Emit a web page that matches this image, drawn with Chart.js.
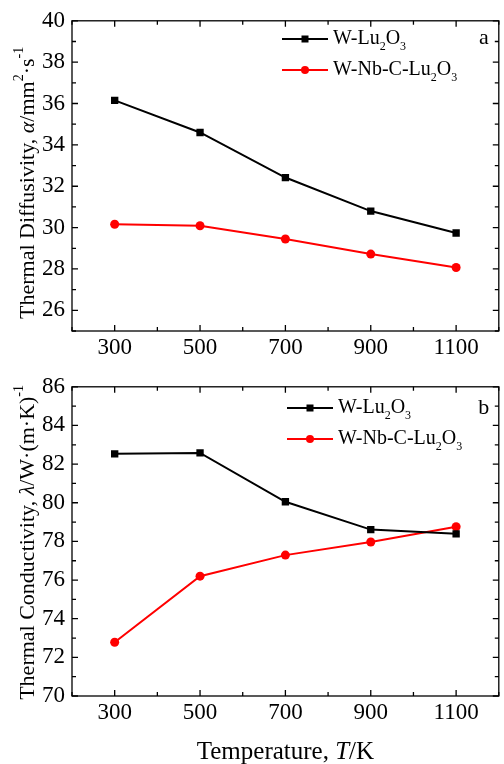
<!DOCTYPE html>
<html>
<head>
<meta charset="utf-8">
<script src="https://cdn.jsdelivr.net/npm/chart.js@4/dist/chart.umd.min.js"></script>
<style>
  body { margin: 0; background: #fff; }
  canvas { display: block; }
</style>
</head>
<body>
<canvas id="diffChart" width="504" height="366"></canvas>
<canvas id="condChart" width="504" height="398"></canvas>
<script>
const temps = [300, 500, 700, 900, 1100];
const xTicks = [300, 500, 700, 900, 1100];
const seriesNames = ['W-Lu2O3', 'W-Nb-C-Lu2O3'];

// panel a: thermal diffusivity
const diffWLu = [36.15, 34.6, 32.42, 30.8, 29.74];
const diffWNbC = [30.16, 30.09, 29.45, 28.72, 28.07];
const diffTicks = [26, 28, 30, 32, 34, 36, 38, 40];

// panel b: thermal conductivity
const condWLu = [82.53, 82.58, 80.05, 78.61, 78.39];
const condWNbC = [72.78, 76.2, 77.29, 77.97, 78.76];
const condTicks = [70, 72, 74, 76, 78, 80, 82, 84, 86];

const FONT = '"Liberation Serif", "Times New Roman", serif';

function fontFor(p, size) {
  const s = (p.sub || p.sup) ? Math.round(size * 0.62) : size;
  return (p.it ? 'italic ' : '') + s + 'px ' + FONT;
}

// draws text made of pieces (italic, sub, sup) centred or left aligned on x
function drawRich(ctx, parts, x, y, size, align) {
  let w = 0;
  parts.forEach(p => { ctx.font = fontFor(p, size); w += ctx.measureText(p.t).width; });
  let cx = align === 'left' ? x : x - w / 2;
  ctx.textAlign = 'left';
  ctx.textBaseline = 'middle';
  parts.forEach(p => {
    ctx.font = fontFor(p, size);
    const dy = p.sub ? size * 0.38 : p.sup ? -size * 0.4 : 0;
    ctx.fillText(p.t, cx, y + dy);
    cx += ctx.measureText(p.t).width;
  });
}

function legendParts(name) {
  if (name === 'W-Lu2O3') {
    return [{ t: 'W-Lu' }, { t: '2', sub: true }, { t: 'O' }, { t: '3', sub: true }];
  }
  return [{ t: 'W-Nb-C-Lu' }, { t: '2', sub: true }, { t: 'O' }, { t: '3', sub: true }];
}

const decorPlugin = {
  id: 'decor',
  afterDraw(chart) {
    const o = chart.options.plugins.decor;
    const ctx = chart.ctx;
    const area = chart.chartArea;
    const xs = chart.scales.x;
    const ys = chart.scales.y;
    ctx.save();
    ctx.strokeStyle = '#000';
    ctx.fillStyle = '#000';
    ctx.lineWidth = 1.3;
    ctx.strokeRect(area.left, area.top, area.right - area.left, area.bottom - area.top);

    // inward ticks on all four sides
    ctx.beginPath();
    for (let v = xs.min; v <= xs.max; v += 100) {
      const px = xs.getPixelForValue(v);
      const len = xTicks.includes(v) ? 6 : 4;
      ctx.moveTo(px, area.bottom); ctx.lineTo(px, area.bottom - len);
      ctx.moveTo(px, area.top); ctx.lineTo(px, area.top + len);
    }
    for (let v = ys.min; v <= ys.max; v += 1) {
      const py = ys.getPixelForValue(v);
      const len = o.yTicks.includes(v) ? 6 : 4;
      ctx.moveTo(area.left, py); ctx.lineTo(area.left + len, py);
      ctx.moveTo(area.right, py); ctx.lineTo(area.right - len, py);
    }
    ctx.stroke();

    // y axis title, rotated
    ctx.save();
    ctx.translate(o.yTitleX, (area.top + area.bottom) / 2 + o.yTitleShift);
    ctx.rotate(-Math.PI / 2);
    drawRich(ctx, o.yTitle, 0, 0, 22);
    ctx.restore();

    if (o.xTitle) {
      drawRich(ctx, o.xTitle, (area.left + area.right) / 2, o.xTitleY, 25);
    }

    // panel letter
    ctx.font = '22px ' + FONT;
    ctx.textAlign = 'center';
    ctx.textBaseline = 'middle';
    ctx.fillText(o.letter, area.right - 15, area.top + o.letterDy);

    // legend
    chart.data.datasets.forEach((ds, i) => {
      const ly = o.legendY + i * 31;
      ctx.strokeStyle = ds.borderColor;
      ctx.fillStyle = ds.borderColor;
      ctx.lineWidth = 2;
      ctx.beginPath();
      ctx.moveTo(o.legendX, ly); ctx.lineTo(o.legendX + 46, ly);
      ctx.stroke();
      const mx = o.legendX + 23;
      if (ds.pointStyle === 'rect') {
        ctx.fillRect(mx - 3.5, ly - 3.5, 7, 7);
      } else {
        ctx.beginPath(); ctx.arc(mx, ly, 4, 0, Math.PI * 2); ctx.fill();
      }
      ctx.fillStyle = '#000';
      drawRich(ctx, legendParts(ds.label), o.legendX + 51, ly, 20, 'left');
    });
    ctx.restore();
  }
};

function makeChart(id, a, b, yMin, yMax, yTicks, decor, yWidth, xHeight, padTop) {
  const ctx = document.getElementById(id).getContext('2d');
  return new Chart(ctx, {
    type: 'line',
    data: {
      datasets: [
        {
          label: seriesNames[0],
          data: temps.map((t, i) => ({ x: t, y: a[i] })),
          borderColor: '#000000',
          backgroundColor: '#000000',
          borderWidth: 2,
          pointStyle: 'rect',
          pointRadius: 5.2,
          pointBorderWidth: 0,
          tension: 0
        },
        {
          label: seriesNames[1],
          data: temps.map((t, i) => ({ x: t, y: b[i] })),
          borderColor: '#ff0000',
          backgroundColor: '#ff0000',
          borderWidth: 2,
          pointStyle: 'circle',
          pointRadius: 4.5,
          pointBorderWidth: 0,
          tension: 0
        }
      ]
    },
    options: {
      responsive: false,
      animation: false,
      devicePixelRatio: 1,
      layout: { padding: { top: padTop, right: 4, left: 0, bottom: 0 } },
      plugins: {
        legend: { display: false },
        tooltip: { enabled: false },
        decor: Object.assign({ yTicks: yTicks }, decor)
      },
      scales: {
        x: {
          type: 'linear',
          min: 200,
          max: 1200,
          afterBuildTicks: s => { s.ticks = xTicks.map(v => ({ value: v })); },
          afterFit: s => { s.height = xHeight; },
          grid: { display: false, drawTicks: false },
          border: { display: false },
          ticks: {
            color: '#000', padding: 3, font: { family: FONT, size: 23 },
            callback: v => String(v)
          }
        },
        y: {
          min: yMin,
          max: yMax,
          afterBuildTicks: s => { s.ticks = yTicks.map(v => ({ value: v })); },
          afterFit: s => { s.width = yWidth; },
          grid: { display: false, drawTicks: false },
          border: { display: false },
          ticks: { color: '#000', padding: 7, font: { family: FONT, size: 23 } }
        }
      }
    },
    plugins: [decorPlugin]
  });
}

makeChart('diffChart', diffWLu, diffWNbC, 25, 40, diffTicks, {
  letter: 'a',
  letterDy: 17,
  legendX: 282,
  legendY: 39,
  yTitleX: 28,
  yTitleShift: 7,
  yTitle: [
    { t: 'Thermal Diffusivity, ' }, { t: 'α', it: true }, { t: '/mm' },
    { t: '2', sup: true }, { t: '·s' }, { t: '-1', sup: true }
  ]
}, 72, 35, 16);

makeChart('condChart', condWLu, condWNbC, 70, 86, condTicks, {
  letter: 'b',
  letterDy: 21,
  legendX: 287,
  legendY: 42,
  yTitleX: 28,
  yTitleShift: 1,
  xTitleY: 386,
  xTitle: [{ t: 'Temperature, ' }, { t: 'T', it: true }, { t: '/K' }],
  yTitle: [
    { t: 'Thermal Conductivity, ' }, { t: 'λ', it: true }, { t: '/W·(m·K)' },
    { t: '-1', sup: true }
  ]
}, 72, 68, 15);
</script>
</body>
</html>
